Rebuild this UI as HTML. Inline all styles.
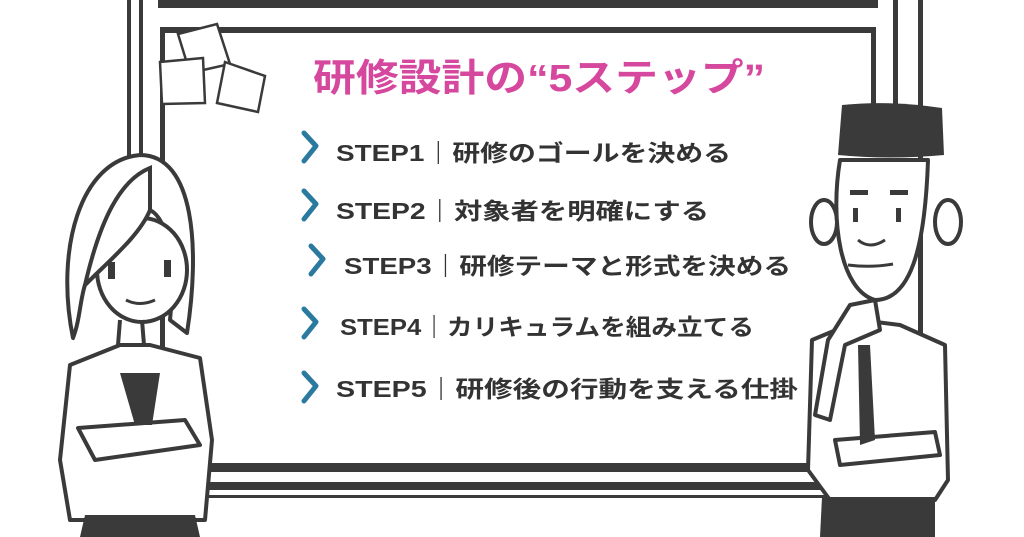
<!DOCTYPE html>
<html><head><meta charset="utf-8"><style>
html,body{margin:0;padding:0;background:#fff;width:1024px;height:537px;overflow:hidden}
svg{display:block}
text{font-family:"Liberation Sans","Noto Sans CJK JP",sans-serif;font-weight:bold}
</style></head><body>
<svg width="1024" height="537" viewBox="0 0 1024 537" xmlns="http://www.w3.org/2000/svg">
<rect width="1024" height="537" fill="#fff"/>
<g fill="#3a3a3a">
<!-- top frame lines -->
<rect x="158" y="0" width="720" height="8"/>
<rect x="162" y="27" width="714" height="6"/>
<!-- left verticals -->
<rect x="127" y="0" width="4" height="200"/>
<rect x="139" y="0" width="4" height="200"/>
<rect x="160" y="27" width="5" height="440"/>
<!-- right verticals -->
<rect x="871" y="27" width="5" height="80"/>
<rect x="893" y="0" width="5" height="105"/>
<rect x="918" y="0" width="5" height="475"/>
<!-- bottom lines -->
<rect x="150" y="463" width="690" height="9"/>
<rect x="150" y="482" width="690" height="8"/>
<rect x="150" y="495" width="690" height="3"/>
</g>
<!-- sticky notes -->
<g fill="#fff" stroke="#3a3a3a" stroke-width="2.5">
<path d="M178,34 L217,24 L230,64 L190,73 Z"/>
<path d="M160,62 L203,58 L205,103 L162,104 Z"/>
<path d="M225,62 L265,76 L258,112 L217,103 Z"/>
</g>
<!-- title -->
<text x="313" y="91" font-size="38" fill="#d6479e" textLength="452" lengthAdjust="spacingAndGlyphs">研修設計の“5ステップ”</text>
<!-- steps -->
<g fill="#333" font-size="23">
<text x="336" y="161" textLength="395" lengthAdjust="spacingAndGlyphs">STEP1｜研修のゴールを決める</text>
<text x="336" y="219" textLength="373" lengthAdjust="spacingAndGlyphs">STEP2｜対象者を明確にする</text>
<text x="344" y="274" textLength="447" lengthAdjust="spacingAndGlyphs">STEP3｜研修テーマと形式を決める</text>
<text x="340" y="335" textLength="414" lengthAdjust="spacingAndGlyphs">STEP4｜カリキュラムを組み立てる</text>
<text x="336" y="397" textLength="462" lengthAdjust="spacingAndGlyphs">STEP5｜研修後の行動を支える仕掛</text>
</g>
<g fill="none" stroke="#2a7aa0" stroke-width="5" stroke-linecap="round" stroke-linejoin="round">
<path d="M304,133 L316,146 L304,161"/>
<path d="M304,191 L316,204 L304,219"/>
<path d="M311,246 L323,259 L311,274"/>
<path d="M304,309 L316,322 L304,337"/>
<path d="M304,373 L316,386 L304,401"/>
</g>
<!-- woman -->
<g stroke="#3a3a3a" stroke-width="4" fill="#fff" stroke-linejoin="round">
<path d="M73,338 C55,250 80,160 140,155 C195,155 200,250 187,333 L170,320 C175,270 170,220 150,210 C130,240 100,270 85,285 C80,300 80,320 73,338 Z"/>
<ellipse cx="142" cy="270" rx="45" ry="52"/>
<path d="M120,320 L118,345 M142,320 L144,345" fill="none"/>
<path d="M70,365 L120,345 L150,345 L200,358 L212,440 L205,520 L70,520 L60,460 Z"/>
<path d="M78,428 L185,420 L200,445 L95,460 Z"/>
</g>
<path d="M150,168 C120,180 100,220 85,285 C110,260 140,235 150,210 Z" fill="#fff" stroke="#3a3a3a" stroke-width="4"/>
<g fill="#3a3a3a">
<rect x="108" y="262" width="7" height="17"/>
<rect x="164" y="260" width="7" height="17"/>
<path d="M120,373 L160,373 L152,425 L135,425 Z"/>
<path d="M85,515 L195,515 L200,537 L80,537 Z"/>
</g>
<path d="M126,300 Q140,307 155,300" fill="none" stroke="#3a3a3a" stroke-width="3"/>
<!-- man -->
<g stroke="#3a3a3a" stroke-width="4" fill="#fff" stroke-linejoin="round">
<ellipse cx="824" cy="222" rx="13" ry="22"/>
<ellipse cx="948" cy="222" rx="13" ry="22"/>
<path d="M840,160 C830,220 840,290 875,300 C910,300 925,250 928,160 Z"/>
<path d="M812,340 L860,320 L900,325 L945,345 L948,480 L935,500 L830,500 L808,470 Z"/>
<path d="M835,440 L935,432 L940,455 L840,465 Z"/>
<path d="M850,305 L875,300 L880,330 L845,345 L830,420 L815,415 L828,340 Z"/>
</g>
<g fill="#3a3a3a">
<path d="M842,105 Q890,100 942,108 L944,155 Q890,160 838,155 Z"/>
<rect x="850" y="190" width="18" height="5"/>
<rect x="890" y="190" width="18" height="5"/>
<rect x="853" y="208" width="5" height="14"/>
<rect x="896" y="208" width="5" height="14"/>
<path d="M858,345 L870,345 L875,440 L860,445 Z"/>
<path d="M822,497 L935,497 L935,537 L820,537 Z"/>
</g>
<path d="M858,240 Q870,250 885,240 M848,265 Q872,268 893,264" fill="none" stroke="#3a3a3a" stroke-width="3"/>
</svg>
</body></html>
